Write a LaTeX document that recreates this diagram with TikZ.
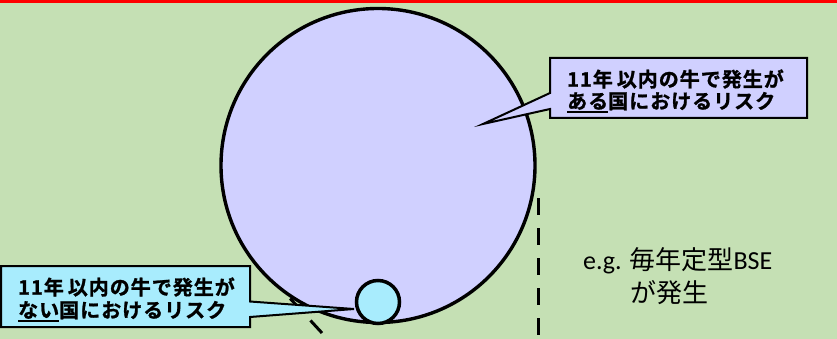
\documentclass[tikz,border=0pt]{standalone}
\usepackage{fontspec}
\newfontfamily\jp{Noto Sans CJK JP}
\newfontfamily\jpb{Noto Sans CJK JP Bold}[FakeBold=1.2]
\newfontfamily\carl{Carlito}
\definecolor{bggreen}{HTML}{C5E0B4}
\definecolor{lav}{HTML}{D0D0FF}
\definecolor{cyanfill}{HTML}{A8ECFD}
\newcommand\myul[1]{\setbox0\hbox{#1}\rlap{\rule[-4.5pt]{\wd0}{2pt}}\box0}
\tikzset{
  callout/.style={draw=black, line width=2pt, line join=miter},
  bigcirc/.style={draw=black, line width=3.4pt},
  dashline/.style={draw=black, line width=3pt, dash pattern=on 17pt off 13pt},
  calltext/.style={anchor=west, inner sep=0pt, font={\jpb\fontsize{20}{24}\selectfont\addfontfeature{LetterSpace=5}}},
  egtext/.style={anchor=west, inner sep=0pt, font={\jp\fontsize{26}{32}\selectfont}}
}
\begin{document}
\begin{tikzpicture}[x=1pt,y=-1pt]
\useasboundingbox (0,0) rectangle (837,339);
\fill[bggreen] (0,0) rectangle (837,339);
\fill[red] (0,0) rectangle (837,3.5);
% dashed lines
\coordinate (d1a) at (538,198);
\coordinate (d1b) at (538,339);
\draw[dashline] (d1a) -- (d1b);
\coordinate (d2a) at (322,333);
\coordinate (d2b) at (262,268);
\draw[dashline] (d2a) -- (d2b);
% circles
\node[circle, bigcirc, fill=lav, minimum size=314pt, inner sep=0pt] (big) at (378,165.5) {};
\node[circle, draw=black, line width=3.5pt, fill=cyanfill, minimum size=43pt, inner sep=0pt] (small) at (378,302) {};
% top callout
\coordinate (tip1) at (483,124);
\filldraw[callout, fill=lav] (550,58) -- (807,58) -- (807,118) -- (550,118) -- (550,109) -- (tip1) -- (550,93) -- cycle;
\node[calltext] (t1) at (567,79) {11年\hspace{4pt}以内の牛で発生が};
\node[calltext] (t2) at (567,102.5) {\myul{ある}国におけるリスク};
% bottom callout
\coordinate (tip2) at (354,309);
\filldraw[callout, fill=cyanfill] (1,266) -- (250,266) -- (250,301.5) -- (tip2) -- (250,317) -- (250,327) -- (1,327) -- cycle;
\node[calltext] (b1) at (18,287) {11年\hspace{4pt}以内の牛で発生が};
\node[calltext] (b2) at (18,311.5) {\myul{ない}国におけるリスク};
% e.g. text
\node[egtext] (e1) at (583,261) {{\carl e.g.} 毎年定型{\carl BSE}};
\node[egtext] (e2) at (630,293) {が発生};
\end{tikzpicture}
\end{document}
